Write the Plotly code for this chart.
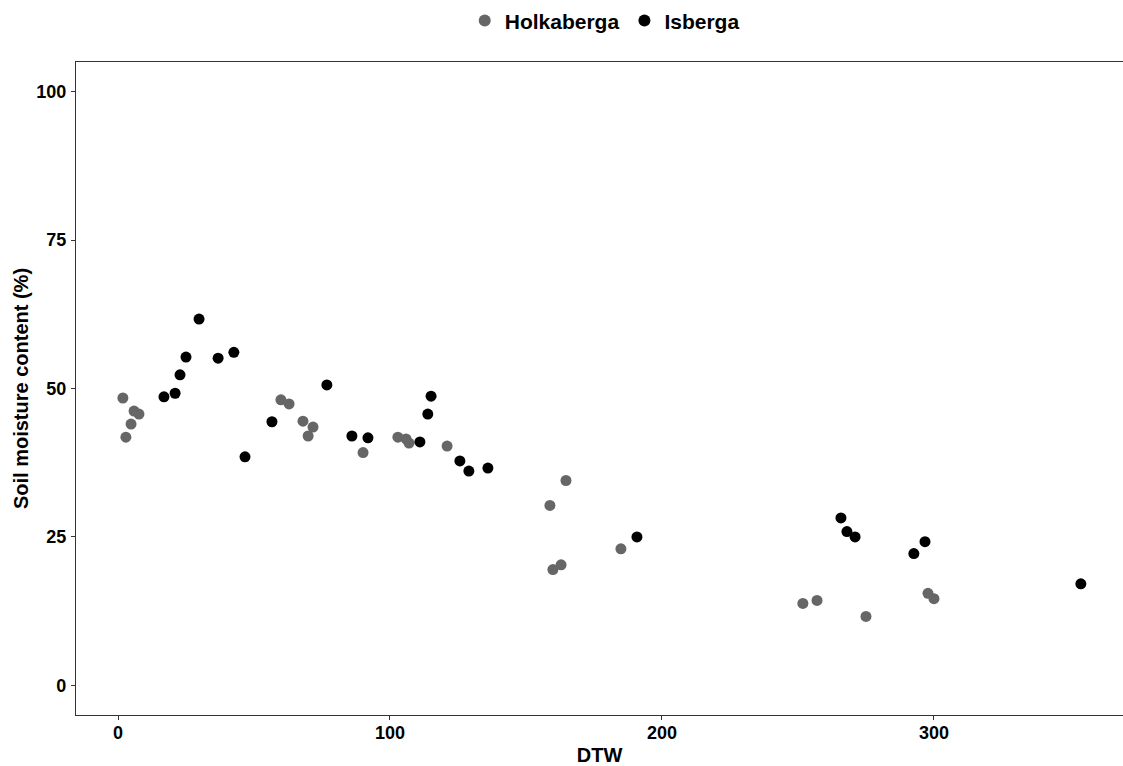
import plotly.graph_objects as go

# Holkaberga (grey)
holk_dtw = [1.8, 2.9, 4.8, 5.9, 7.7, 59.9, 62.9, 68.0, 69.9, 71.7, 90.1, 102.9, 105.9, 107.0,
            121.0, 158.8, 164.7, 159.9, 162.9, 184.9, 251.8, 257.0, 275.0, 297.8, 300.0]
holk_sm = [48.4, 41.8, 44.0, 46.2, 45.7, 48.1, 47.4, 44.5, 42.0, 43.5, 39.2, 41.8, 41.5, 40.8,
           40.3, 30.3, 34.5, 19.5, 20.3, 23.0, 13.8, 14.3, 11.6, 15.5, 14.6]

# Isberga (black)
isb_dtw = [16.9, 21.0, 22.8, 25.0, 29.8, 36.8, 42.6, 46.7, 56.6, 76.8, 86.0, 91.9, 111.0, 113.9,
           115.1, 125.7, 129.0, 136.0, 190.8, 265.8, 268.0, 271.0, 292.6, 296.7, 354.0]
isb_sm = [48.6, 49.2, 52.3, 55.3, 61.7, 55.1, 56.1, 38.5, 44.4, 50.6, 42.0, 41.7, 41.0, 45.7,
          48.7, 37.8, 36.1, 36.6, 25.0, 28.2, 25.9, 25.0, 22.2, 24.2, 17.1]

x_ticks = [0, 100, 200, 300]
y_ticks = [0, 25, 50, 75, 100]

FONT = "Liberation Sans, Arial, sans-serif"

fig = go.Figure()
fig.add_trace(go.Scatter(x=holk_dtw, y=holk_sm, mode="markers", name="<b>Holkaberga</b>",
                         marker=dict(color="#666666", size=11, line=dict(width=0))))
fig.add_trace(go.Scatter(x=isb_dtw, y=isb_sm, mode="markers", name="<b>Isberga</b>",
                         marker=dict(color="#000000", size=11, line=dict(width=0))))

axis_common = dict(showgrid=False, zeroline=False, showline=True, linecolor="#333333",
                   linewidth=1.3, ticks="outside", ticklen=4, tickcolor="#333333", tickwidth=1.3,
                   automargin=False,
                   tickfont=dict(family=FONT, size=18, color="black"))

fig.update_layout(
    width=1123, height=766,
    margin=dict(l=76, r=0, t=62, b=51, autoexpand=False),
    paper_bgcolor="white", plot_bgcolor="white",
    font=dict(family=FONT, color="black"),
    showlegend=True,
    legend=dict(orientation="h", x=0.505, xanchor="center", y=1.063, yanchor="middle",
                font=dict(family=FONT, size=21, color="black"), itemsizing="constant",
                itemwidth=30, tracegroupgap=0),
)
fig.update_xaxes(range=[-15.44, 369.5], tickvals=x_ticks, ticktext=[f"<b>{v}</b>" for v in x_ticks],
                 mirror=True, ticklabelstandoff=-3,
                 title=dict(text="<b>DTW</b>", font=dict(family=FONT, size=20, color="black"), standoff=9),
                 **axis_common)
fig.update_yaxes(range=[-5, 105], tickvals=y_ticks, ticktext=[f"<b>{v}</b>" for v in y_ticks],
                 mirror=False, ticklabelstandoff=1,
                 title=dict(text="<b>Soil moisture content (%)</b>", font=dict(family=FONT, size=20, color="black"), standoff=2),
                 **axis_common)

fig.write_html("out.html", config={"displayModeBar": False},
               post_script="document.body.style.margin='0';document.body.style.overflow='hidden';")
